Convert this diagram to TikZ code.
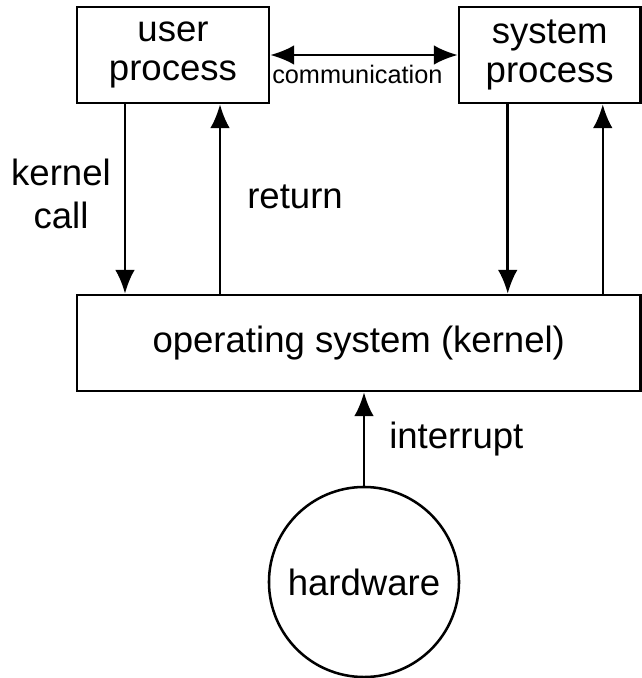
\documentclass[tikz,border=0pt]{standalone}
\usepackage{fontspec}
\setmainfont{Liberation Sans}
\usetikzlibrary{arrows.meta,positioning}

\begin{document}
\begin{tikzpicture}[x=0.025cm, y=-0.025cm, line width=1.8pt,
        >={Latex[length=17pt,width=14pt]},
        box/.style={draw, rectangle, inner sep=0pt, minimum height=2.4cm, align=center, font=\fontsize{26}{28}\selectfont},
        lbl/.style={inner sep=0pt, align=center, font=\fontsize{26}{30}\selectfont}]
        \useasboundingbox (0,0) rectangle (642,678);

        \node[box, minimum width=4.8cm] (user) at (173,55) {user\\process};
        \node[box, minimum width=4.5375cm] (sys) at (549.75,55) {system\\process};
        \node[box, minimum width=14.0875cm] (os) at (358.75,343) {operating system (kernel)};
        \node[draw, circle, inner sep=0pt, minimum size=4.75cm, font=\fontsize{26}{28}\selectfont] (hw) at (364,582) {hardware};

        \coordinate (kcall) at ([xshift=-1.2cm]user.south);
        \coordinate (uret) at ([xshift=1.175cm]user.south);
        \coordinate (scall) at ([xshift=-1.05cm]sys.south);
        \coordinate (sret) at ([xshift=1.325cm]sys.south);

        \draw[->] (kcall) -- (kcall |- os.north);
        \draw[<-] (uret) -- (uret |- os.north);
        \draw[->] (scall) -- (scall |- os.north);
        \draw[<-] (sret) -- (sret |- os.north);
        \draw[<->] (user.east) -- (sys.west);
        \draw[->] (hw) -- (hw |- os.south);

        \node[lbl, anchor=base west, font=\fontsize{18}{20}\selectfont] (comm) at (271,83) {communication};
        \node[lbl] (kc) at (61,194) {kernel\\call};
        \node[lbl, anchor=base west] (ret) at (246,208) {return};
        \node[lbl, anchor=base west] (intr) at (388,448) {interrupt};
    \end{tikzpicture}
\end{document}
